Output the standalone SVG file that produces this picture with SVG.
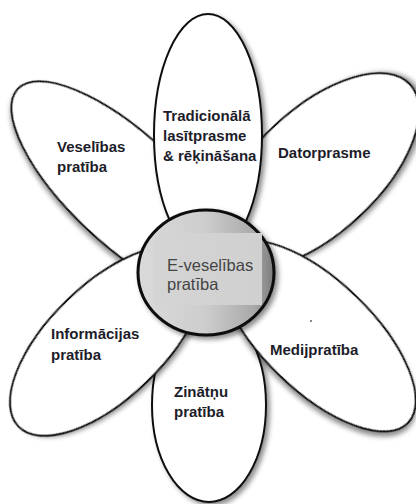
<svg xmlns="http://www.w3.org/2000/svg" width="416" height="504" viewBox="0 0 416 504">
  <defs>
    <filter id="shadow" x="-20%" y="-20%" width="140%" height="140%">
      <feGaussianBlur in="SourceAlpha" stdDeviation="2.5"/>
      <feOffset dx="3" dy="3" result="b"/>
      <feFlood flood-color="#000" flood-opacity="0.45"/>
      <feComposite in2="b" operator="in"/>
      <feMerge><feMergeNode/><feMergeNode in="SourceGraphic"/></feMerge>
    </filter>
    <linearGradient id="disc" x1="0" y1="0" x2="1" y2="0">
      <stop offset="0" stop-color="#dadada"/>
      <stop offset="0.5" stop-color="#cdcdcd"/>
      <stop offset="0.85" stop-color="#a9a9a9"/>
      <stop offset="1" stop-color="#7c7c7c"/>
    </linearGradient>
    <linearGradient id="box" x1="0" y1="0" x2="1" y2="0">
      <stop offset="0" stop-color="#d4d4d4"/>
      <stop offset="1" stop-color="#d0d0d0"/>
    </linearGradient>
  </defs>
  <style>
    .petal { fill: #ffffff; stroke: #111111; stroke-width: 2; filter: url(#shadow); }
    .lbl { font-family: "Liberation Sans", Arial, sans-serif; font-weight: bold; font-size: 15px; fill: #1d1d2a; }
    .ctr { font-family: "Liberation Sans", Arial, sans-serif; font-size: 16.5px; fill: #444444; }
  </style>
  <rect width="416" height="504" fill="#ffffff"/>

  <g id="veselibas-pratiba">
    <ellipse class="petal" cx="0" cy="0" rx="148" ry="55" transform="translate(126 190) rotate(43)"/>
    <text class="lbl" x="57" y="152">Veselības</text>
    <text class="lbl" x="57" y="172">pratība</text>
  </g>

  <g id="datorprasme">
    <ellipse class="petal" cx="0" cy="0" rx="127" ry="62" transform="translate(317 171) rotate(-43)"/>
    <text class="lbl" x="278" y="158">Datorprasme</text>
  </g>

  <g id="zinatnu-pratiba">
    <ellipse class="petal" cx="209" cy="405" rx="57" ry="97"/>
    <text class="lbl" x="174" y="397">Zinātņu</text>
    <text class="lbl" x="174" y="417">pratība</text>
  </g>

  <g id="tradicionala-lasitprasme">
    <ellipse class="petal" cx="208" cy="135" rx="54" ry="121"/>
    <text class="lbl" x="163" y="121">Tradicionālā</text>
    <text class="lbl" x="163" y="141">lasītprasme</text>
    <text class="lbl" x="163" y="161">&amp; rēķināšana</text>
  </g>

  <g id="informacijas-pratiba">
    <ellipse class="petal" cx="0" cy="0" rx="123" ry="57" transform="translate(107 341) rotate(-44)"/>
    <text class="lbl" x="51" y="339">Informācijas</text>
    <text class="lbl" x="51" y="360">pratība</text>
  </g>

  <g id="medijpratiba">
    <ellipse class="petal" cx="0" cy="0" rx="125" ry="55" transform="translate(318 336) rotate(44)"/>
    <text class="lbl" x="270" y="355">Medijpratība</text>
    <circle cx="311" cy="321" r="0.9" fill="#555555"/>
  </g>

  <g id="e-veselibas-pratiba">
    <ellipse cx="206" cy="272.5" rx="68" ry="62.5" fill="url(#disc)" stroke="#0a0a0a" stroke-width="3" filter="url(#shadow)"/>
    <rect x="155" y="233" width="107" height="72" fill="url(#box)"/>
    <text class="ctr" x="167" y="271">E-veselības</text>
    <text class="ctr" x="167" y="290">pratība</text>
  </g>
</svg>
